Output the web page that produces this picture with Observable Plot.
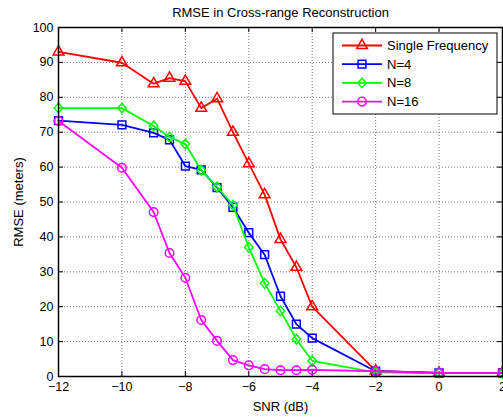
<!DOCTYPE html>
<html>
<head>
<meta charset="utf-8">
<script src="https://cdn.jsdelivr.net/npm/d3@7"></script>
<script src="https://cdn.jsdelivr.net/npm/@observablehq/plot@0.6"></script>
<style>
  body { margin: 0; background: #fff; }
  #chart svg { display: block; }
</style>
</head>
<body>
<div id="chart"></div>
<script>
// SNR levels (dB) at which the reconstruction error was measured
const snr = [-12, -10, -9, -8.5, -8, -7.5, -7, -6.5, -6, -5.5, -5, -4.5, -4, -2, 0, 2];

// RMSE (meters) for each configuration
const singleFreq = [93.0, 89.9, 83.9, 85.5, 84.6, 76.9, 79.6, 70.0, 61.0, 52.1, 39.3, 31.3, 20.0, 1.6, 1.0, 1.0];
const n4         = [73.3, 72.1, 69.8, 67.8, 60.3, 59.2, 54.1, 48.5, 41.2, 34.9, 23.0, 15.0, 11.0, 1.5, 1.0, 1.0];
const n8         = [76.9, 76.9, 71.8, 68.6, 66.6, 59.1, 54.3, 49.1, 37.0, 26.7, 18.8, 10.7, 4.5, 1.2, 1.0, 1.0];
const n16        = [73.2, 59.8, 47.1, 35.4, 28.3, 16.2, 10.2, 4.7, 3.2, 2.1, 1.8, 1.8, 1.9, 1.5, 1.0, 1.0];

const seriesNames = ["Single Frequency", "N=4", "N=8", "N=16"];
const seriesValues = [singleFreq, n4, n8, n16];
const seriesColors = ["#ff0000", "#0000ff", "#00ff00", "#ff00ff"];

const xTicks = [-12, -10, -8, -6, -4, -2, 0, 2];
const yTicks = [0, 10, 20, 30, 40, 50, 60, 70, 80, 90, 100];

const titleText = "RMSE in Cross-range Reconstruction";
const xLabel = "SNR (dB)";
const yLabel = "RMSE (meters)";

// A rhombus a little taller than it is wide
const rhombus = {
  draw(context, size) {
    const r = Math.sqrt(size / Math.PI);
    const w = r * 1.0, h = r * 1.15;
    context.moveTo(0, -h);
    context.lineTo(w, 0);
    context.lineTo(0, h);
    context.lineTo(-w, 0);
    context.closePath();
  }
};
const seriesSymbols = [d3.symbolTriangle, d3.symbolSquare, rhombus, d3.symbolCircle];
const seriesMarkerR = [4, 4.4, 4.2, 4.3];

// Long-format table: one row per measurement
const rows = seriesNames.flatMap((name, i) =>
  snr.map((s, j) => ({ series: name, snr: s, rmse: seriesValues[i][j] }))
);

const font = "'Liberation Sans', Arial, sans-serif";

const seriesMarks = seriesNames.flatMap((name, i) => {
  const data = rows.filter(d => d.series === name);
  return [
    Plot.line(data, { x: "snr", y: "rmse", stroke: seriesColors[i], strokeWidth: 1.8 }),
    Plot.dot(data, {
      x: "snr", y: "rmse", symbol: seriesSymbols[i], r: seriesMarkerR[i],
      stroke: seriesColors[i], fill: "none", strokeWidth: 1.5
    })
  ];
});

const gridStyle = { stroke: "#000", strokeOpacity: 0.55, strokeDasharray: "1,2", strokeWidth: 1 };

const plot = Plot.plot({
  width: 503,
  height: 419,
  marginLeft: 58,
  marginRight: 1,
  marginTop: 27,
  marginBottom: 43,
  x: { domain: [-12, 2], ticks: xTicks },
  y: { domain: [0, 100], ticks: yTicks },
  style: { fontFamily: font, fontSize: "12px", background: "#fff", color: "#000" },
  marks: [
    Plot.gridX(xTicks, gridStyle),
    Plot.gridY(yTicks, gridStyle),
    // inward tick marks on all four sides
    Plot.ruleX(xTicks, { x: d => d, insetTop: 344, stroke: "#000" }),
    Plot.ruleX(xTicks, { x: d => d, insetBottom: 344, stroke: "#000" }),
    Plot.ruleY(yTicks, { y: d => d, insetRight: 439, stroke: "#000" }),
    Plot.ruleY(yTicks, { y: d => d, insetLeft: 439, stroke: "#000" }),
    Plot.axisX(xTicks, { tickSize: 0, tickPadding: 6, label: null, fontSize: 12.5 }),
    Plot.axisY(yTicks, { tickSize: 0, tickPadding: 5, label: null, fontSize: 12.5 }),
    ...seriesMarks,
    Plot.frame({ stroke: "#000", strokeWidth: 1.5 }),
    Plot.text([titleText], { frameAnchor: "top", lineAnchor: "middle", dy: -15, fontSize: 13 }),
    Plot.text([xLabel], { frameAnchor: "bottom", lineAnchor: "middle", dy: 30, fontSize: 13 }),
    Plot.text([yLabel], { frameAnchor: "left", textAnchor: "middle", lineAnchor: "middle", dx: -40, rotate: -90, fontSize: 13 })
  ]
});

document.getElementById("chart").appendChild(plot);

// Legend box in the upper-right corner of the axes
const svg = d3.select(plot);
const legend = svg.append("g").attr("font-family", font).attr("font-size", 13).attr("text-anchor", "start");
const box = { x: 333, y: 33, w: 164, h: 81 };
legend.append("rect")
  .attr("x", box.x).attr("y", box.y).attr("width", box.w).attr("height", box.h)
  .attr("fill", "#fff").attr("stroke", "#000").attr("stroke-width", 1);

seriesNames.forEach((name, i) => {
  const cy = box.y + 12.5 + i * 18.7;
  const g = legend.append("g");
  g.append("line")
    .attr("x1", box.x + 9).attr("x2", box.x + 49).attr("y1", cy).attr("y2", cy)
    .attr("stroke", seriesColors[i]).attr("stroke-width", 1.8);
  g.append("path")
    .attr("transform", `translate(${box.x + 29},${cy})`)
    .attr("d", d3.symbol(seriesSymbols[i], Math.PI * seriesMarkerR[i] * seriesMarkerR[i])())
    .attr("fill", "none").attr("stroke", seriesColors[i]).attr("stroke-width", 1.5);
  g.append("text")
    .attr("x", box.x + 54).attr("y", cy).attr("dy", "0.35em")
    .attr("fill", "#000").text(name);
});
</script>
</body>
</html>
